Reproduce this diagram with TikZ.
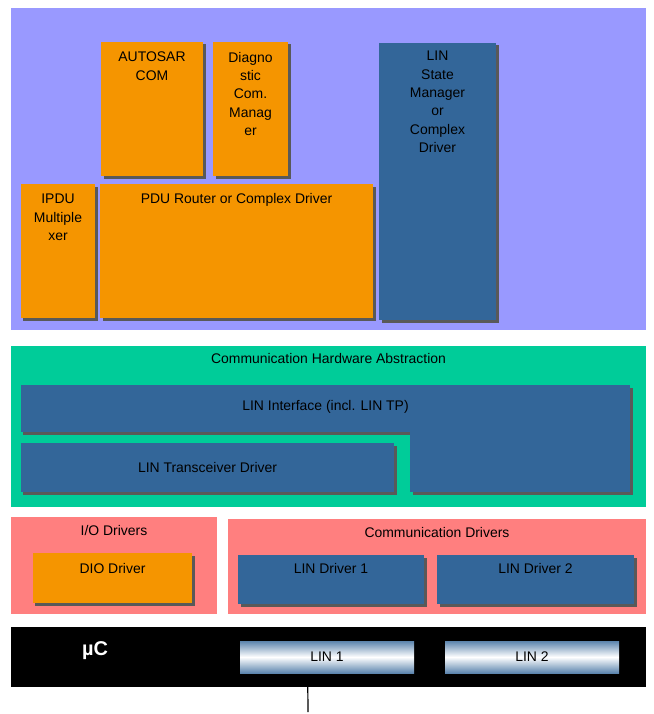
\documentclass[tikz,border=0pt]{standalone}
\usepackage{fontspec}
\setmainfont{Liberation Sans}
\usetikzlibrary{positioning,shadows}
\definecolor{purplebg}{HTML}{9999FF}
\definecolor{orangebox}{HTML}{F59500}
\definecolor{bluebox}{HTML}{336699}
\definecolor{greenbg}{HTML}{00CC99}
\definecolor{pinkbg}{HTML}{FF7F7F}
\newcommand\blk[6]{%
  \node[#6, minimum width=#4bp, minimum height=#5bp] (#1) at (#2+#4/2,#3+#5/2) {};}
\begin{document}
\begin{tikzpicture}[x=1bp,y=-1bp,
  area/.style={fill=#1,draw=none,inner sep=0pt},
  box/.style={fill=#1,draw=none,inner sep=0pt,
    drop shadow={shadow xshift=2.5bp,shadow yshift=-2.5bp,fill=black!65,opacity=1}},
  txt/.style={inner sep=0pt,align=center,font=\fontsize{14}{18.5}\selectfont},
  port/.style={draw=none,inner sep=0pt,top color=bluebox!80,bottom color=bluebox!80,middle color=white}]
\useasboundingbox (0,0) rectangle (654,714);
%% upper layers
\blk{upper}{11}{8}{635}{322}{area=purplebg}
\blk{com}{101}{42}{102}{134}{box=orangebox}
\blk{dcm}{213}{42}{75}{134}{box=orangebox}
\blk{ipdum}{21}{184}{74}{134}{box=orangebox}
\blk{pdur}{100}{184}{273}{134}{box=orangebox}
\blk{linsm}{379}{43}{117}{277}{box=bluebox}
\node[txt, below=10bp of com.north] (com-t) {AUTOSAR\\COM};
\node[txt, below=10bp of dcm.north] (dcm-t) {Diagno\\stic\\Com.\\Manag\\er};
\node[txt, below=10bp of ipdum.north] (ipdum-t) {IPDU\\Multiple\\xer};
\node[txt, below=9bp of pdur.north] (pdur-t) {PDU Router or Complex Driver};
\node[txt, below=8bp of linsm.north] (linsm-t) {LIN\\State\\Manager\\or\\Complex\\Driver};
%% communication hardware abstraction
\blk{ecual}{11}{346}{635}{161}{area=greenbg}
\node[txt, below=7bp of ecual.north] (ecual-t) {Communication Hardware Abstraction};
\blk{linif}{21}{385}{609}{47}{box=bluebox}
\blk{linifb}{410}{430}{220}{62}{box=bluebox}
\node[txt, below=15bp of linif.north] (linif-t) {LIN Interface (incl. LIN TP)};
\blk{lintrcv}{21}{443}{373}{49}{box=bluebox}
\node[txt] (lintrcv-t) at (lintrcv) {LIN Transceiver Driver};
%% drivers
\blk{iodrv}{11}{517}{206}{97}{area=pinkbg}
\blk{comdrv}{228}{519}{418}{95}{area=pinkbg}
\node[txt, below=8bp of iodrv.north] (iodrv-t) {I/O Drivers};
\node[txt, below=8bp of comdrv.north] (comdrv-t) {Communication Drivers};
\blk{dio}{33}{553}{159}{50}{box=orangebox}
\blk{lin1}{238}{555}{186}{49}{box=bluebox}
\blk{lin2}{437}{555}{197}{49}{box=bluebox}
\node[txt, below=10bp of dio.north] (dio-t) {DIO Driver};
\node[txt, below=8bp of lin1.north] (lin1-t) {LIN Driver 1};
\node[txt, below=8bp of lin2.north] (lin2-t) {LIN Driver 2};
%% microcontroller
\blk{uc}{11}{627}{635}{60}{area=black}
\node[txt, text=white, font=\bfseries\fontsize{20}{24}\selectfont] (uc-t) at (95,651) {µC};
\blk{port1}{240}{641}{174}{32}{port}
\blk{port2}{445}{641}{174}{32}{port}
\node[txt] (port1-t) at (port1) {LIN 1};
\node[txt] (port2-t) at (port2) {LIN 2};
\coordinate (bus) at (308,712);
\draw[line width=1.2bp] (uc.south -| port1.south west) ++(68,0) coordinate (tap) -- (bus);
\end{tikzpicture}
\end{document}
